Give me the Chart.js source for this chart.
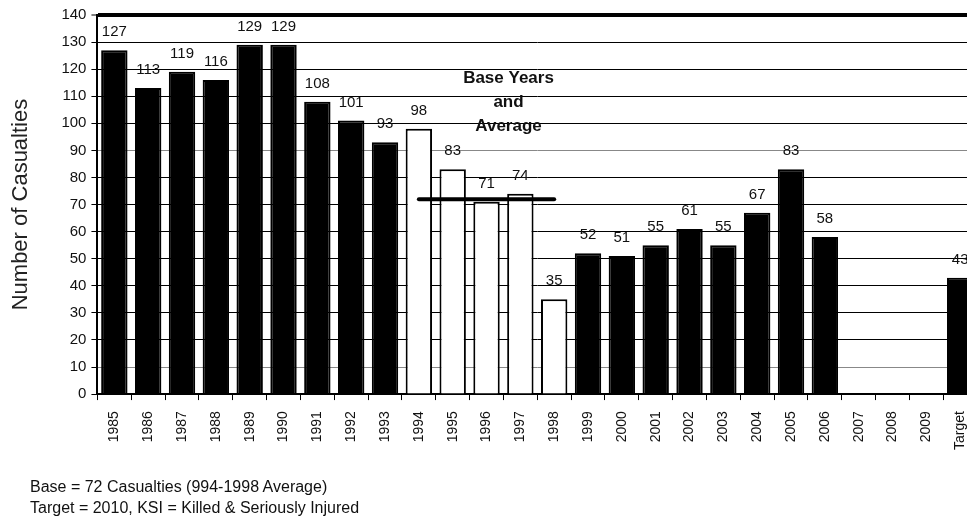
<!DOCTYPE html>
<html>
<head>
<meta charset="utf-8">
<script src="https://cdn.jsdelivr.net/npm/chart.js@4.4.1/dist/chart.umd.min.js"></script>
<style>
  html, body { margin: 0; padding: 0; background: #fff; overflow: hidden; }
  #wrap { position: relative; width: 988px; height: 521px; }
  .note { position: absolute; left: 30px; font: 16px Arial, "Liberation Sans", sans-serif; color: #111; line-height: 21px; white-space: nowrap; }
</style>
</head>
<body>
<div id="wrap">
  <canvas id="myChart"></canvas>
  <div class="note" style="top:476px">Base = 72 Casualties (994-1998 Average)</div>
  <div class="note" style="top:497px">Target = 2010, KSI = Killed &amp; Seriously Injured</div>
</div>
<script>
// data
const years = ['1985', '1986', '1987', '1988', '1989', '1990', '1991', '1992', '1993',
    '1994', '1995', '1996', '1997', '1998', '1999', '2000', '2001', '2002', '2003',
    '2004', '2005', '2006', '2007', '2008', '2009', 'Target'];
const casualties = [127, 113, 119, 116, 129, 129, 108, 101, 93,
    98, 83, 71, 74, 35, 52, 51, 55, 61, 55,
    67, 83, 58, null, null, null, 43];
const baseYears = ['1994', '1995', '1996', '1997', '1998'];
const baseAverage = 72;
const noteLines = ['Base Years', 'and', 'Average'];

const yMin = 0, yMax = 140, yStep = 10;

const avgLine = years.map(y => baseYears.includes(y) ? baseAverage : null);
const barFill = years.map(y => baseYears.includes(y) ? '#ffffff' : '#000000');

const valueLabels = {
    id: 'valueLabels',
    afterDatasetsDraw(chart) {
        const c = chart.ctx;
        const meta = chart.getDatasetMeta(1);
        c.save();
        c.font = '15px Arial, "Liberation Sans", sans-serif';
        c.fillStyle = '#111';
        c.textAlign = 'center';
        c.textBaseline = 'alphabetic';
        meta.data.forEach((bar, i) => {
            if (casualties[i] == null) return;
            c.fillText(String(casualties[i]), bar.x, bar.y - 14);
        });
        // "Base Years and Average" note
        const x = chart.scales.x.getPixelForValue(11.65);
        c.font = 'bold 17px Arial, "Liberation Sans", sans-serif';
        c.textBaseline = 'middle';
        noteLines.forEach((t, i) => {
            c.fillText(t, x, chart.scales.y.getPixelForValue(116.7) + i * 24);
        });
        c.restore();
    }
};

const ctx = document.getElementById('myChart').getContext('2d');

const myChart = new Chart(ctx, {
    data: {
        labels: years,
        datasets: [{
            type: 'line',
            data: avgLine,
            borderColor: '#000',
            borderWidth: 4,
            borderCapStyle: 'round',
            pointRadius: 0,
            spanGaps: false,
            order: 0
        }, {
            type: 'bar',
            data: casualties,
            backgroundColor: barFill,
            borderColor: '#000',
            borderWidth: 2,
            barPercentage: 0.78,
            categoryPercentage: 1,
            order: 1
        }]
    },
    options: {
        responsive: true,
        maintainAspectRatio: false,
        animation: false,
        layout: { padding: { left: 0, top: 15, right: 0, bottom: 60 } },
        plugins: { legend: { display: false }, tooltip: { enabled: false } },
        scales: {
            x: {
                offset: true,
                grid: { drawOnChartArea: false, color: '#000', tickLength: 6 },
                border: { color: '#000', width: 2 },
                ticks: {
                    color: '#111',
                    font: { family: 'Arial, "Liberation Sans", sans-serif', size: 14 },
                    minRotation: 90, maxRotation: 90, autoSkip: false, padding: 11
                }
            },
            y: {
                min: yMin,
                max: yMax,
                ticks: {
                    stepSize: yStep,
                    color: '#111',
                    padding: 5,
                    font: { family: 'Arial, "Liberation Sans", sans-serif', size: 15 }
                },
                grid: {
                    color: (c) => (c.tick && (c.tick.value === 90 || c.tick.value === 10)) ? '#888' : '#000',
                    lineWidth: (c) => (c.tick && c.tick.value === yMax) ? 4 : 1,
                    tickColor: '#000',
                    tickWidth: 1,
                    tickLength: 6
                },
                border: { color: '#000', width: 2 },
                title: {
                    display: true,
                    text: 'Number of Casualties',
                    color: '#222',
                    font: { family: 'Arial, "Liberation Sans", sans-serif', size: 22 },
                    padding: { top: 8, bottom: 22 }
                }
            }
        }
    },
    plugins: [valueLabels]
});
</script>
</body>
</html>
